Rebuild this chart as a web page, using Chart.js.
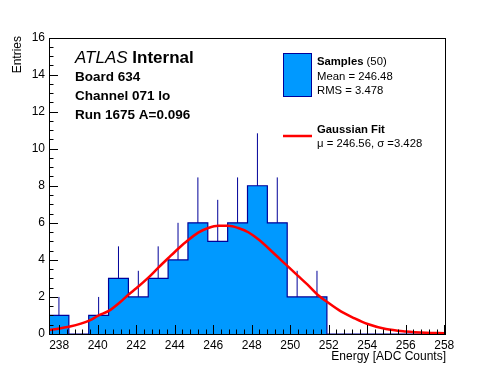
<!DOCTYPE html>
<html>
<head>
<meta charset="utf-8">
<script src="https://cdn.jsdelivr.net/npm/chart.js@4"></script>
<style>
  body { margin: 0; background: #fff; }
</style>
</head>
<body>
<canvas id="myChart" width="496" height="372"></canvas>
<script>
// histogram of samples, 20 bins
var histMin = 237.47;
var histMax = 258.09;
var counts = [1, 0, 1, 3, 2, 3, 4, 6, 5, 6, 8, 6, 2, 2, 0, 0, 0, 0, 0, 0];
var errTop = [2, 0, 2, 4.73, 3.41, 4.73, 6, 8.45, 7.24, 8.45, 10.83, 8.45, 3.41, 3.41, 0, 0, 0, 0, 0, 0];

// gaussian fit
var fitX = [237.52, 238.56, 239.56, 240.03, 240.6, 241.16, 241.59, 242.02, 242.63, 243.15, 243.67, 244.18, 244.7, 245.22, 245.74, 246.26, 246.78, 247.3, 247.82, 248.39, 249.09, 249.78, 250.39, 250.9, 251.42, 251.94, 252.63, 253.33, 254.02, 254.97, 256.0, 257.05, 258.0];
var fitY = [0.22, 0.40, 0.72, 0.99, 1.26, 1.71, 2.12, 2.48, 3.04, 3.58, 4.10, 4.60, 5.07, 5.47, 5.72, 5.84, 5.84, 5.72, 5.49, 5.07, 4.41, 3.74, 3.15, 2.66, 2.12, 1.71, 1.22, 0.85, 0.54, 0.27, 0.14, 0.07, 0.04];

var xTicks = [238, 240, 242, 244, 246, 248, 250, 252, 254, 256, 258];
var yTicks = [0, 2, 4, 6, 8, 10, 12, 14, 16];

var font = "'Liberation Sans', Arial, sans-serif";
var binW = (histMax - histMin) / counts.length;

var histPts = counts.map(function (c, i) { return { x: histMin + i * binW, y: c }; });
histPts.push({ x: histMax, y: 0 });

var errPts = [];
counts.forEach(function (c, i) {
    if (c > 0) {
        var cx = histMin + (i + 0.5) * binW;
        errPts.push({ x: cx, y: c }, { x: cx, y: errTop[i] }, { x: cx, y: null });
    }
});

var fitPts = fitX.map(function (x, i) { return { x: x, y: fitY[i] }; });

// frame + ROOT style ticks inside the frame
var frameTicks = {
    id: 'frameTicks',
    afterDatasetsDraw: function (chart) {
        var ctx = chart.ctx, a = chart.chartArea, x = chart.scales.x, y = chart.scales.y;
        ctx.save();
        ctx.strokeStyle = '#000';
        ctx.lineWidth = 1;
        ctx.beginPath();
        for (var k = 0; k < 60; k++) {
            var v = 237.6 + k * 0.4;
            if (v > histMax) break;
            var r = Math.round(v);
            var major = Math.abs(v - r) < 1e-6 && r % 2 === 0;
            var px = Math.round(x.getPixelForValue(v)) + 0.5;
            ctx.moveTo(px, a.bottom);
            ctx.lineTo(px, a.bottom - (major ? 9 : 4.5));
        }
        for (var j = 0; j <= 32; j++) {
            var py = Math.round(y.getPixelForValue(j * 0.5)) + 0.5;
            ctx.moveTo(a.left, py);
            ctx.lineTo(a.left + (j % 4 === 0 ? 9 : 4.5), py);
        }
        ctx.stroke();
        ctx.strokeRect(Math.round(a.left) + 0.5, Math.round(a.top) + 0.5,
            Math.round(a.right - a.left) - 1, Math.round(a.bottom - a.top) - 1);
        ctx.restore();
    }
};

// labels, legend and axis titles
var textPlugin = {
    id: 'textPlugin',
    afterDraw: function (chart) {
        var ctx = chart.ctx;
        ctx.save();
        ctx.fillStyle = '#000';
        ctx.textBaseline = 'alphabetic';
        ctx.textAlign = 'left';

        ctx.font = 'italic 17px ' + font;
        ctx.fillText('ATLAS', 75, 63);
        var w = ctx.measureText('ATLAS ').width;
        ctx.font = 'bold 17px ' + font;
        ctx.fillText('Internal', 75 + w, 63);

        ctx.font = 'bold 13.5px ' + font;
        ctx.fillText('Board 634', 75, 81);
        ctx.fillText('Channel 071 lo', 75, 99.5);
        ctx.fillText('Run 1675 A=0.096', 75, 118.5);

        // legend
        ctx.fillStyle = '#0099ff';
        ctx.fillRect(283.5, 53.5, 28, 43);
        ctx.strokeStyle = '#000099';
        ctx.lineWidth = 1;
        ctx.strokeRect(283.5, 53.5, 28, 43);

        ctx.fillStyle = '#000';
        ctx.font = 'bold 11.3px ' + font;
        ctx.fillText('Samples', 317, 65);
        var sw = ctx.measureText('Samples').width;
        ctx.font = '11.3px ' + font;
        ctx.fillText(' (50)', 317 + sw, 65);
        ctx.fillText('Mean = 246.48', 317, 80);
        ctx.fillText('RMS = 3.478', 317, 94);

        ctx.strokeStyle = '#ff0000';
        ctx.lineWidth = 2.5;
        ctx.beginPath();
        ctx.moveTo(283, 136);
        ctx.lineTo(312, 136);
        ctx.stroke();

        ctx.font = 'bold 11.3px ' + font;
        ctx.fillText('Gaussian Fit', 317, 133);
        ctx.font = '11.3px ' + font;
        ctx.fillText('\u03bc = 246.56, \u03c3 =3.428', 317, 146.5);

        // axis titles
        ctx.font = '12px ' + font;
        ctx.textAlign = 'right';
        ctx.fillText('Energy [ADC Counts]', 446, 360);
        ctx.translate(21, 36);
        ctx.rotate(-Math.PI / 2);
        ctx.fillText('Entries', 0, 0);
        ctx.restore();
    }
};

new Chart("myChart", {
    type: "line",
    data: {
        datasets: [{
            label: 'Gaussian Fit',
            data: fitPts,
            borderColor: '#ff0000',
            borderWidth: 2.5,
            pointRadius: 0,
            cubicInterpolationMode: 'monotone',
            fill: false,
            order: 0
        }, {
            label: 'errors',
            data: errPts,
            borderColor: '#000099',
            borderWidth: 1,
            pointRadius: 0,
            spanGaps: false,
            fill: false,
            order: 1
        }, {
            label: 'Samples',
            data: histPts,
            stepped: 'before',
            borderColor: '#000099',
            borderWidth: 1.2,
            backgroundColor: '#0099ff',
            pointRadius: 0,
            fill: 'origin',
            order: 2
        }]
    },
    options: {
        responsive: false,
        animation: false,
        devicePixelRatio: 1,
        layout: { padding: { left: 0, top: 37.5, right: 50, bottom: 0 } },
        plugins: {
            legend: { display: false },
            tooltip: { enabled: false }
        },
        scales: {
            x: {
                type: 'linear',
                min: histMin,
                max: histMax,
                afterBuildTicks: function (s) { s.ticks = xTicks.map(function (v) { return { value: v }; }); },
                afterFit: function (s) { s.height = 38; },
                grid: { display: false, drawTicks: false },
                border: { display: false },
                ticks: { color: '#000', font: { family: font, size: 12 }, padding: 4, maxRotation: 0, autoSkip: false }
            },
            y: {
                min: 0,
                max: 16,
                afterBuildTicks: function (s) { s.ticks = yTicks.map(function (v) { return { value: v }; }); },
                afterFit: function (s) { s.width = 49; },
                grid: { display: false, drawTicks: false },
                border: { display: false },
                ticks: { color: '#000', font: { family: font, size: 12 }, padding: 4 }
            }
        }
    },
    plugins: [frameTicks, textPlugin]
});
</script>
</body>
</html>
